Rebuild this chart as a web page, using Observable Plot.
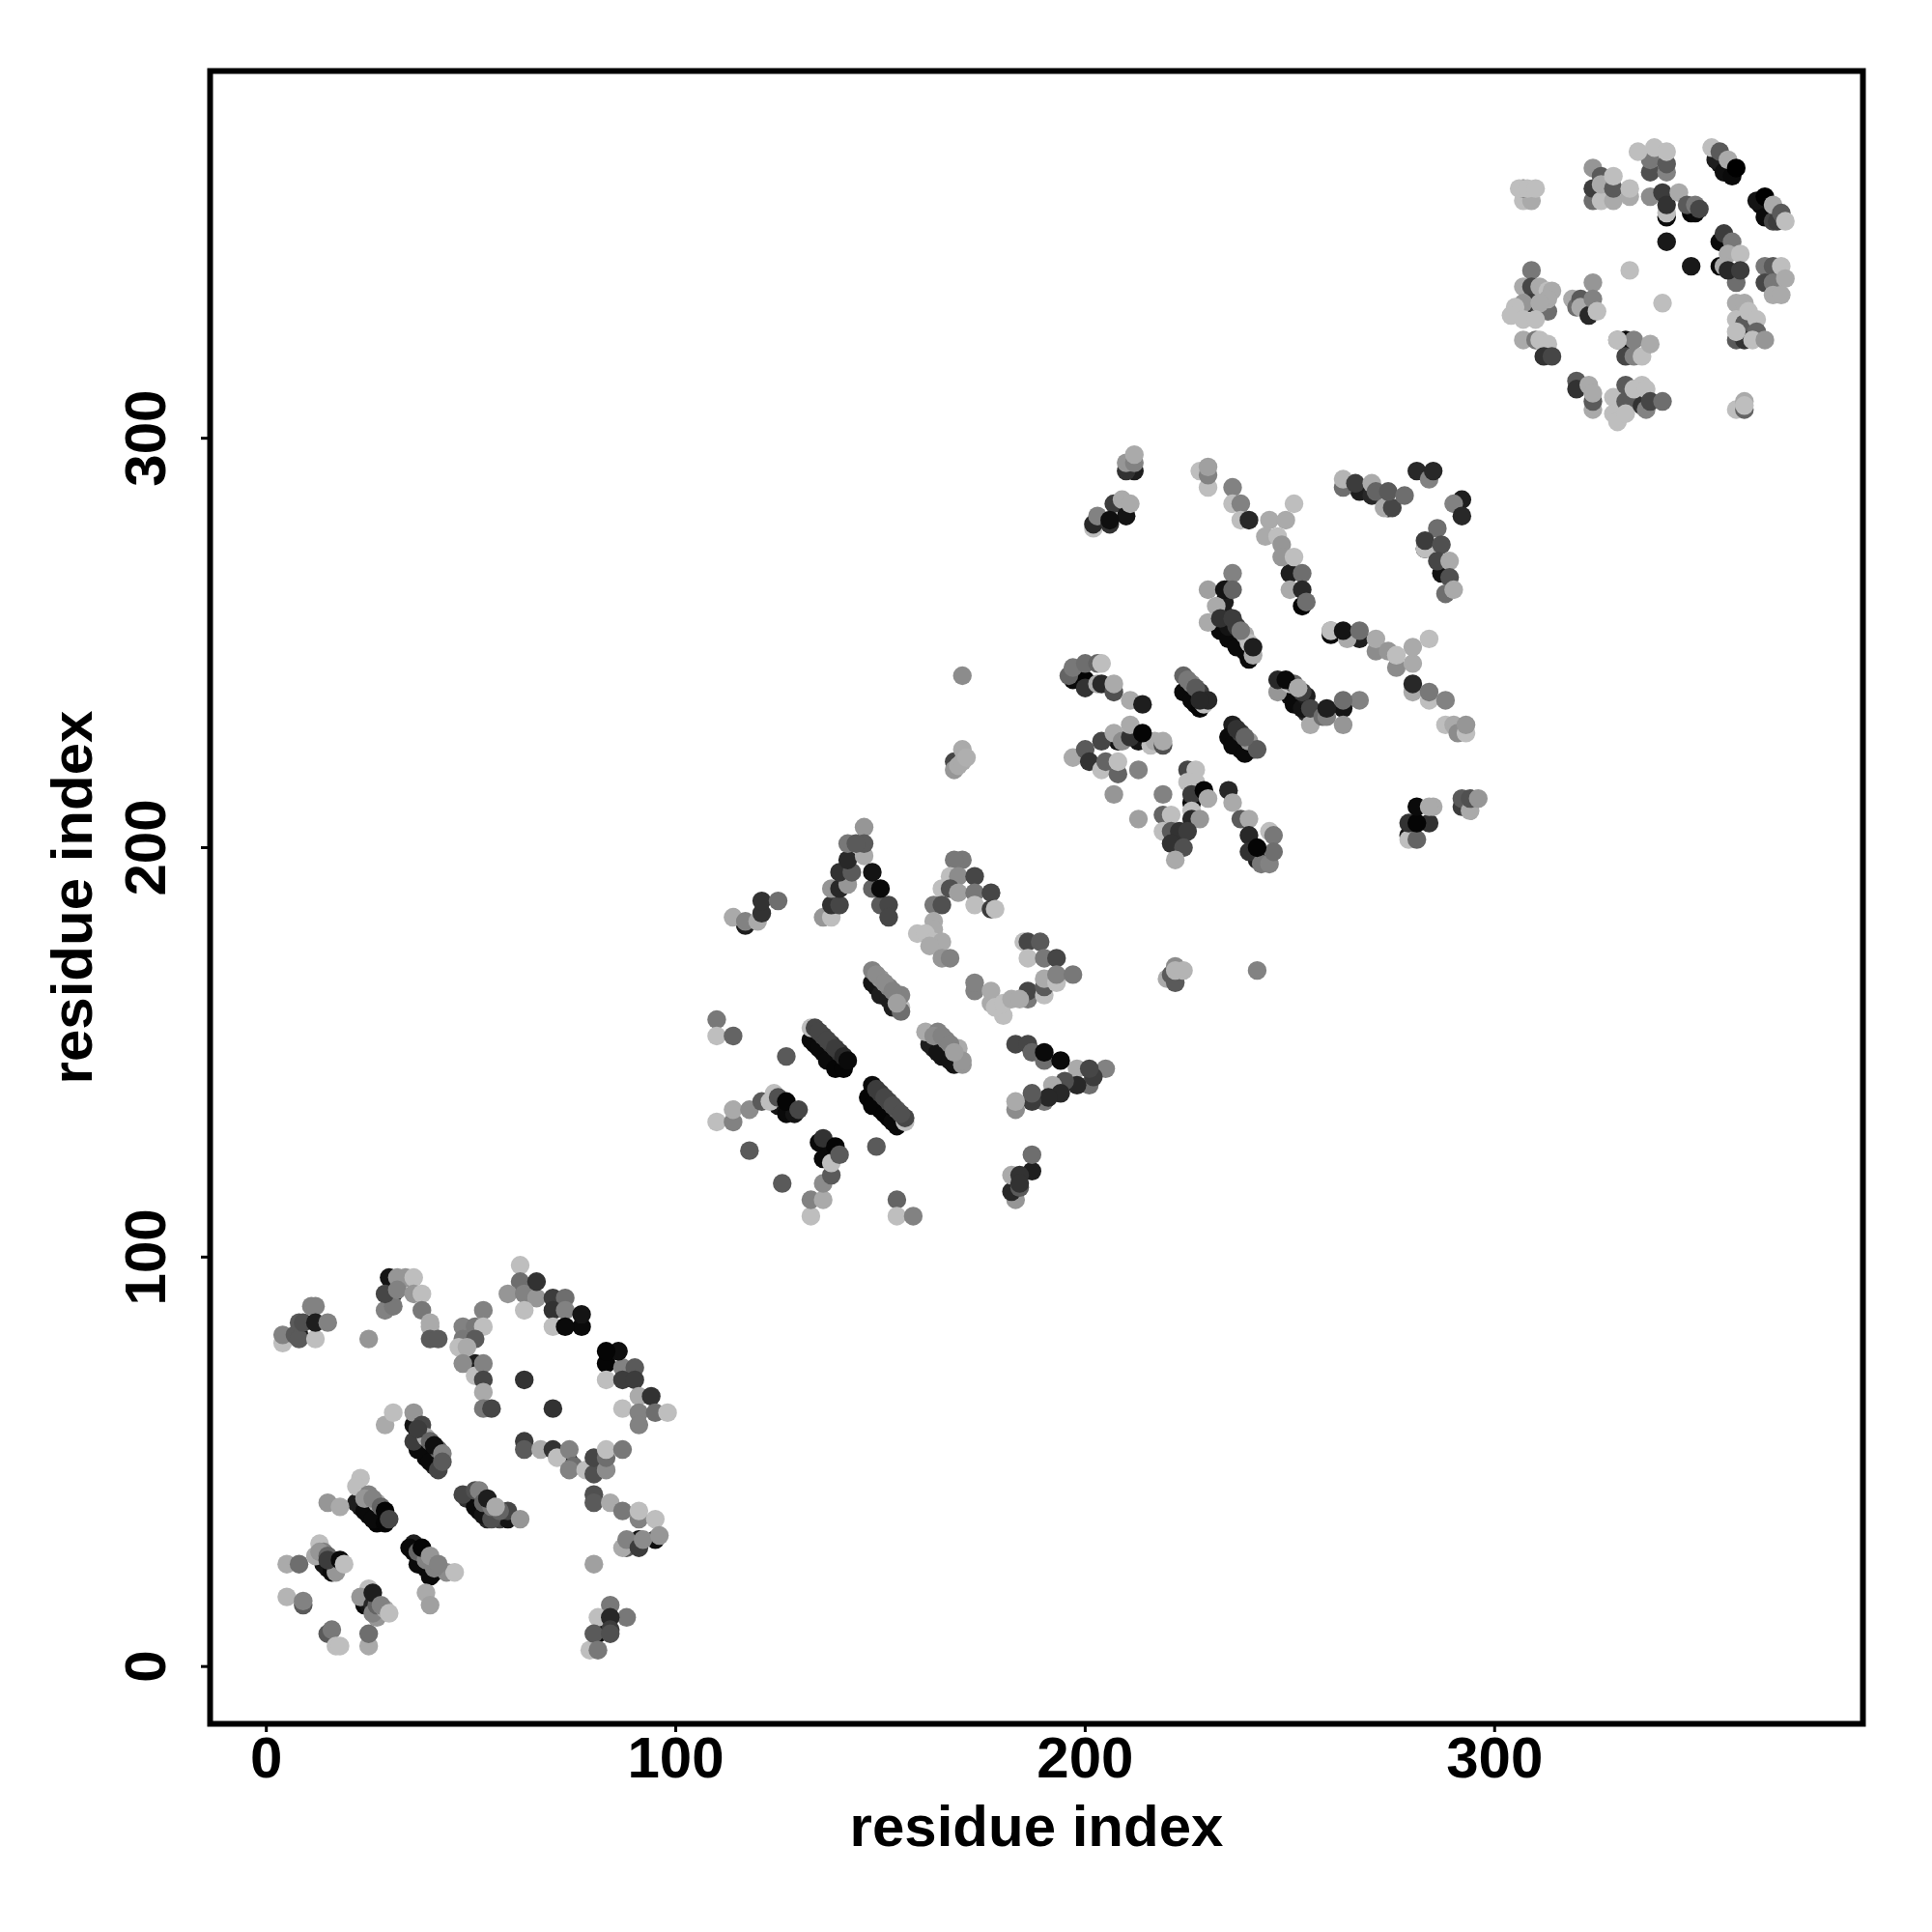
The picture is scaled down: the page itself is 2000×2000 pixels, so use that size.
<!DOCTYPE html>
<html><head><meta charset="utf-8">
<script src="https://cdn.jsdelivr.net/npm/d3@7"></script>
<script src="https://cdn.jsdelivr.net/npm/@observablehq/plot@0.6"></script>
<style>html,body{margin:0;padding:0;background:#fff}svg{display:block}</style>
</head><body><div id="chart"></div>
<script>
const tickValues=[0,100,200,300];
const axisTitle="residue index";
// each entry: residue i, residue j, grey level
const c01=[[4,79,190],[4,81,130],[7,81,90],[8,80,90],[8,81,20],[12,80,190],[8,84,90],[9,84,80],[12,84,30],[15,84,130],[11,88,130],[12,88,130]];
const c02=[[25,80,150],[29,87,130],[31,88,120],[29,91,70],[31,91,20],[30,95,20],[32,95,150],[34,95,150],[36,95,190],[32,92,130],[36,91,150],[38,91,190],[38,87,120],[40,83,170],[40,84,170],[40,80,90],[42,80,90]];
const c03=[[53,87,130],[48,83,130],[51,83,120],[53,83,190],[48,80,120],[51,80,90],[47,78,190],[49,78,170],[48,74,140],[51,71,190],[51,74,30],[53,74,130],[53,70,70],[53,67,170],[53,63,120],[55,63,70]];
const c04=[[63,70,50],[70,63,50]];
const c05=[[62,98,190],[62,94,110],[59,91,150],[63,91,130],[66,90,150],[66,94,50],[63,87,190],[70,90,60],[73,90,110],[70,87,50],[73,87,130],[70,83,190],[73,83,10],[77,83,10],[77,86,20]];
const c06=[[83,77,5],[86,77,15],[83,74,5],[83,70,190],[87,73,130],[90,73,90],[87,70,60],[90,70,60],[91,66,170],[94,66,50],[87,63,190],[91,62,130],[95,62,110],[98,62,190],[91,59,130]];
const c07=[[36,62,150],[29,59,170],[31,62,190],[36,59,20],[38,59,70],[36,55,60],[39,56,170],[37,53,10],[41,54,15],[40,50,10],[42,48,70],[43,50,90],[43,52,130]];
const c08=[[15,40,150],[18,39,170],[23,46,190],[22,44,190],[25,42,130],[22,40,30],[27,40,170],[24,38,10],[26,36,10],[29,35,5],[29,38,5],[30,36,70]];
const c09=[[48,42,70],[51,43,80],[52,43,130],[54,41,30],[51,39,10],[53,37,20],[56,39,170],[55,36,80],[59,36,20],[59,38,70],[62,36,150]];
const c10=[[36,30,30],[35,29,10],[38,29,5],[37,25,10],[40,27,150],[40,22,10],[42,25,130],[44,23,140],[46,23,190],[39,18,170],[40,15,160]];
const c11=[[5,25,170],[8,25,110],[13,30,190],[12,27,170],[14,28,130],[16,26,90],[14,25,20],[16,23,10],[17,23,150],[18,26,10],[19,25,190]];
const c12=[[5,17,180],[9,15,90],[9,16,130],[15,8,90],[16,9,120],[17,5,190],[18,5,190],[25,5,170],[25,8,110]];
const c13=[[25,19,190],[23,17,150],[24,17,10],[26,18,30],[25,15,20],[26,15,40],[27,12,150],[28,15,130],[30,13,190]];
const c14=[[63,55,60],[63,53,90],[67,53,170],[70,53,50],[71,51,190],[74,53,130],[74,50,20],[75,49,110],[74,48,130],[78,48,190],[80,47,80],[80,51,70],[83,48,140],[83,51,110],[83,53,190],[87,53,120]];
const c15=[[80,42,80],[80,40,90],[84,40,170],[87,38,120],[91,36,130],[91,38,190],[95,36,190],[88,29,90],[87,29,170],[88,31,130],[91,29,60],[91,31,20],[92,31,140],[95,31,15],[96,32,150],[80,25,160]];
const c16=[[84,15,120],[81,12,190],[88,12,120],[84,12,40],[84,9,60],[79,4,190],[81,8,10],[80,8,90],[84,8,80],[81,4,120]];
const c17=[[114,183,170],[117,181,30],[117,182,130],[120,182,170],[121,184,50],[121,187,50],[125,187,110],[136,183,150],[138,183,190],[138,186,50],[140,186,70],[138,190,150],[140,190,40],[142,191,150],[140,194,50],[143,194,90],[142,197,40],[146,198,170],[142,201,120],[146,205,150],[146,201,90],[144,201,90]];
const c18=[[148,190,100],[148,194,20],[150,190,10],[150,186,90],[152,186,70],[152,183,70]];
const c19=[[170,197,120],[168,197,120],[167,193,190],[169,193,140],[165,190,190],[167,190,80],[169,189,160],[173,193,70],[173,189,120],[173,186,190],[177,189,70],[177,185,60],[178,185,190],[163,186,120],[165,186,80],[163,182,170],[163,180,170],[159,179,190],[161,179,190],[163,177,190],[165,177,170],[162,176,170],[165,173,150],[167,173,130]];
const c20=[[185,177,190],[186,177,70],[189,177,90],[186,173,190],[190,173,120],[193,173,70],[186,163,120],[186,165,70],[190,164,190],[190,166,90],[190,168,170],[193,167,190],[193,169,130],[197,169,120],[173,165,130],[173,167,130],[177,162,170],[177,165,170],[180,159,190],[178,161,190],[180,162,190],[182,163,170],[184,163,170]];
const c21=[[148,167,20],[148,170,130],[150,164,30],[150,168,150],[152,163,30],[152,166,130],[155,161,190],[155,160,110],[155,164,130]];
const c22=[[133,156,190],[134,156,70],[133,153,10],[136,154,70],[135,151,10],[138,152,60],[137,148,10],[140,150,50],[139,146,5],[141,146,5],[142,148,10]];
const c23=[[161,155,170],[164,155,130],[162,152,30],[166,153,130],[164,150,20],[167,148,20],[169,151,170],[170,147,150],[170,148,150]];
const c24=[[183,152,70],[186,152,70],[187,150,100],[190,148,110],[190,150,10],[194,148,10]];
const c25=[[198,146,170],[205,146,130],[201,142,110],[202,144,60],[201,146,70],[198,142,40],[195,143,80],[192,142,170],[194,140,40],[190,138,120],[191,139,40],[187,138,60],[187,140,90],[183,136,140],[183,138,170]];
const c26=[[110,158,120],[110,154,190],[114,154,100],[127,149,90],[110,133,190],[114,133,130],[114,136,170],[118,136,140],[121,138,90],[123,138,190],[124,140,190],[125,139,80],[127,138,5],[125,137,20],[127,135,10],[129,135,20],[130,136,70],[118,126,90],[126,118,90]];
const c27=[[133,110,190],[133,114,130],[136,114,170],[136,118,140],[138,120,90],[138,123,190],[136,129,50],[135,128,10],[136,124,10],[138,127,10],[139,127,5],[140,125,90],[149,127,90],[154,114,100],[154,110,190],[158,110,130]];
const c28=[[156,133,190],[148,142,10],[147,139,5],[150,140,60],[148,137,5],[152,138,70],[151,135,5],[154,136,90],[153,133,10],[156,134,70]];
const c29=[[183,114,150],[182,116,40],[182,120,170],[184,117,90],[184,120,50],[184,118,50],[187,121,30],[187,125,110]];
const c30=[[210,292,50],[212,292,30],[210,294,150],[212,294,130],[212,296,170],[202,278,190],[203,280,190],[202,279,40],[203,281,130],[206,279,50],[206,280,15],[207,284,60],[210,281,20],[209,285,170],[211,284,170]];
const c31=[[228,292,190],[230,288,190],[230,291,130],[230,293,160],[236,288,130],[236,284,190],[238,284,130],[238,280,190],[240,280,40],[245,280,170],[249,280,170],[251,284,190],[244,276,170],[247,276,190],[248,274,150],[248,271,150],[251,271,190],[250,263,170],[250,267,30],[253,267,110],[253,259,5],[253,263,40],[254,260,110]];
const c32=[[263,288,110],[263,290,180],[266,289,60],[267,287,30],[270,286,40],[270,289,170],[271,287,100],[273,283,170],[274,283,20],[275,283,70],[274,287,90],[278,286,110],[281,292,40],[284,290,130],[285,292,40],[290,284,130],[292,285,30],[292,281,40]];
const c33=[[286,278,110],[283,273,190],[283,273,10],[283,275,60],[287,274,80],[286,270,70],[289,270,170],[287,267,20],[289,266,80],[288,262,110],[290,263,170]];
const c34=[[236,267,130],[230,263,160],[234,263,20],[236,263,100],[232,259,170],[234,260,30],[230,255,170],[233,253,10],[233,256,50],[235,251,10],[235,254,20],[237,254,60],[237,249,10],[239,252,170],[240,246,10],[241,247,170],[240,250,190],[241,249,30]];
const c35=[[260,252,10],[260,253,120],[260,253,190],[263,253,20],[264,251,170],[267,251,30],[267,253,110],[271,248,140],[271,251,170],[274,248,150],[276,244,140],[276,247,190],[280,245,170],[280,249,170],[284,251,190],[280,238,170],[280,240,40],[284,236,190],[284,238,120],[288,236,130],[288,230,190],[290,230,170],[291,228,140],[293,228,190],[293,230,150]];
const c36=[[247,238,150],[247,241,40],[249,241,10],[250,240,190],[249,238,10],[251,235,10],[252,239,170],[253,234,20],[254,237,30],[255,230,170],[255,234,70],[258,232,110],[259,232,130],[259,234,30],[263,230,150],[263,234,20],[263,236,110],[267,236,130]];
const c37=[[197,222,170],[200,224,90],[201,221,50],[204,219,190],[204,226,70],[205,221,100],[208,218,100],[208,221,190],[207,228,170],[208,226,20],[213,219,130],[207,213,150],[213,207,160],[209,226,140],[211,227,50],[211,230,170],[213,226,20],[214,228,5],[216,225,190],[217,226,170],[219,225,80],[219,226,170]];
const c38=[[196,242,100],[197,241,10],[197,244,120],[200,239,50],[200,241,5],[200,245,110],[203,245,100],[204,245,190],[203,240,170],[204,240,40],[207,238,80],[207,240,170],[211,236,170],[214,235,30]];
const c39=[[224,242,100],[224,238,10],[226,240,130],[226,236,10],[228,234,5],[228,238,60],[229,235,190],[230,236,40]];
const c40=[[236,230,30],[235,227,10],[238,228,60],[236,225,10],[239,223,10],[240,226,150],[242,224,90]];
const c41=[[225,219,70],[227,219,190],[225,216,190],[227,216,190],[226,213,60],[226,211,10],[229,214,5],[230,212,170],[226,209,190],[226,207,40],[228,207,150],[235,214,40],[236,211,170],[238,207,90],[240,207,170],[240,203,40],[240,199,50],[242,197,30],[242,200,5],[243,196,120],[245,196,130],[245,204,190],[246,203,120],[246,199,110]];
const c42=[[219,213,130],[219,208,100],[221,208,190],[219,204,190],[221,204,90],[223,204,50],[225,204,60],[221,201,50],[224,200,80],[222,197,170]];
const c43=[[279,202,190],[279,203,20],[281,202,100],[279,206,50],[281,206,5],[284,206,50],[281,210,10],[284,210,170],[285,210,170],[292,210,60],[292,212,90],[294,209,170],[294,212,80],[296,212,150]];
const c44=[[170,242,140],[168,221,70],[168,219,150],[169,220,170],[170,224,170],[170,221,170],[171,222,175],[242,170,130],[220,168,170],[221,169,90],[222,167,90],[222,171,140],[222,170,180],[224,170,180]];
const c45=[[307,358,190],[309,358,170],[307,361,120],[306,361,190],[308,361,190],[310,361,190],[324,358,110],[324,366,150],[324,361,60],[326,364,90],[326,358,190],[326,362,170],[329,358,170],[329,361,90],[329,364,190],[333,359,170],[333,361,190]];
const c46=[[338,365,80],[338,368,120],[335,370,190],[339,371,190],[342,365,130],[342,367,90],[342,370,190],[338,359,140],[341,360,60],[342,354,10],[342,355,190],[342,357,50],[345,360,170],[347,357,90],[348,355,5],[349,355,10],[349,357,120],[350,356,70]];
const c47=[[353,371,190],[355,370,90],[354,368,30],[357,368,170],[356,365,15],[358,364,10],[359,366,0],[364,358,20],[366,359,0],[366,354,10],[368,357,170],[368,353,70],[370,355,90],[371,353,190]];
const c48=[[356,350,60],[355,348,10],[358,348,120],[357,345,170],[360,345,190],[355,342,10],[356,342,170],[359,338,110],[357,341,40],[360,341,60],[348,342,25],[342,348,25],[333,341,190],[341,333,190]];
const c49=[[366,342,120],[368,342,90],[366,338,70],[368,338,120],[370,342,190],[371,339,170],[368,335,170],[370,335,170]];
const c50=[[359,333,170],[361,333,170],[359,329,190],[361,328,90],[362,331,190],[364,329,190],[359,324,90],[361,324,50],[359,326,190],[364,326,100],[363,324,190],[366,324,150]];
const c51=[[309,341,120],[307,337,170],[309,337,70],[309,333,60],[311,337,170],[313,331,110],[313,336,190],[314,336,170],[313,334,170],[307,333,150],[311,333,170],[305,332,190],[304,330,190],[307,329,190],[310,329,190],[307,324,170],[310,324,120],[311,324,190],[313,323,190],[312,320,50],[314,320,70]];
const c52=[[319,334,170],[320,332,110],[321,334,90],[324,338,150],[321,332,170],[323,330,40],[324,334,130],[325,331,190]];
const c53=[[330,324,130],[332,324,10],[332,320,70],[334,320,130],[334,324,130],[330,324,190],[336,320,190],[338,323,170]];
const c54=[[320,314,90],[320,312,50],[324,307,170],[324,309,90],[323,313,170],[324,311,170]];
const c55=[[329,310,190],[329,306,190],[330,304,190],[332,313,90],[334,309,90],[332,309,90],[332,306,190],[336,308,50],[337,307,130],[336,313,190],[334,312,190],[337,312,190],[338,309,70],[341,309,110]];
const c56=[[359,307,190],[361,309,170],[361,307,100],[361,308,190]];
// contacts mostly covered by others along the strand streaks
const streakDark=[[134,152,10],[136,150,10],[138,148,10],[140,147,5],[149,139,5],[150,136,5],[152,134,5],[154,132,10],[149,166,20],[151,164,30],[153,161,30],[163,151,30],[165,149,20],[168,147,20],[37,57,30],[38,54,20],[39,51,10],[41,49,40],[23,39,20],[25,37,10],[27,35,5],[28,36,20],[49,41,50],[52,38,10],[54,36,40],[57,36,70],[36,28,10],[38,26,10],[39,24,10],[41,23,20],[15,24,20],[17,25,20],[24,15,10],[234,257,40],[236,252,20],[238,250,10],[239,248,10],[248,239,10],[250,237,20],[252,235,10],[254,233,40],[225,239,30],[227,235,10],[237,226,10],[238,224,10],[241,224,60],[355,367,20],[357,365,10],[365,357,10],[367,355,20]];
const streakMid=[[135,155,70],[137,153,70],[139,151,60],[141,149,40],[149,141,60],[151,139,70],[153,137,80],[155,135,80],[149,169,140],[151,167,140],[153,165,130],[154,162,160],[163,154,140],[165,154,130],[167,152,130],[168,150,160],[37,58,60],[40,55,100],[42,53,100],[24,41,150],[26,41,130],[28,39,100],[53,40,100],[55,39,120],[57,38,100],[37,28,100],[39,26,130],[41,24,130],[13,28,150],[15,27,100],[15,26,60],[26,13,130],[27,15,100],[29,14,170],[236,256,60],[238,253,120],[251,240,100],[253,238,60],[225,241,120],[227,239,90],[228,236,40],[237,229,50],[239,227,100],[369,353,60]];
// contacts that lie over their neighbours, in stacking order
const upper=[[29,38,5],[30,36,70],[38,29,5],[40,27,150],[42,25,130],[41,54,15],[43,52,130],[43,50,90],[26,18,30],[28,15,130],[30,13,190],[77,83,10],[73,83,10],[77,86,20],[86,77,15],[83,77,5],[54,41,30],[56,39,170],[18,26,10],[19,25,190],[142,148,10],[190,150,10],[194,148,10],[148,194,20],[150,190,10],[127,138,5],[130,136,70],[139,127,5],[140,125,90],[241,249,30],[240,280,40],[214,228,5],[229,214,5],[230,212,170],[242,200,5],[234,263,20],[236,263,100],[263,253,20],[267,253,110],[281,206,5],[281,210,10],[284,210,170],[214,235,30],[210,281,20],[211,284,170],[206,280,15],[359,366,0],[366,359,0],[368,357,170],[370,355,90],[371,353,190],[12,84,30],[15,84,130],[66,94,50],[259,234,30],[263,236,110],[249,241,10],[252,239,170]];
const clusters=[c01,c02,c03,c04,c05,c06,c07,c08,c09,c10,c11,c12,c13,c14,c15,c16,c17,c18,c19,c20,c21,c22,c23,c24,c25,c26,c27,c28,c29,c30,c31,c32,c33,c34,c35,c36,c37,c38,c39,c40,c41,c42,c43,c44,c45,c46,c47,c48,c49,c50,c51,c52,c53,c54,c55,c56];
const upperKeys=new Set(upper.map(String));
const lower=clusters.flatMap(c=>{
  const rest=c.filter(p=>!upperKeys.has(String(p)));
  return [...rest.filter(p=>p[2]<=30),...rest.filter(p=>p[2]>30)];
});
const contacts=[...streakDark,...lower,...streakMid,...upper].map(([i,j,g])=>({i,j,g}));
const font="'Liberation Sans',Arial,sans-serif";
const chart=Plot.plot({
  width:2000,height:2000,
  marginLeft:217,marginRight:72,marginTop:73,marginBottom:216,
  style:{background:"#fff",fontFamily:font},
  x:{domain:[-13.73,389.95]},
  y:{domain:[-14,389.7]},
  color:{type:"linear",domain:[0,255],range:["#000","#fff"]},
  marks:[
    Plot.dot(contacts,{x:"i",y:"j",fill:"g",r:9.7,stroke:"none"}),
    Plot.frame({stroke:"#000",strokeWidth:6}),
    Plot.axisX({ticks:tickValues,tickSize:9,tickPadding:4,strokeWidth:3,fontSize:60,fontWeight:"bold",fill:"#000",
      label:axisTitle,labelAnchor:"center",labelArrow:"none",labelOffset:126}),
    Plot.axisY({ticks:tickValues,tickSize:9,tickPadding:38,strokeWidth:3,fontSize:60,fontWeight:"bold",fill:"#000",
      tickRotate:-90,textAnchor:"middle",
      label:axisTitle,labelAnchor:"center",labelArrow:"none",labelOffset:165})
  ]
});
document.getElementById("chart").append(chart);
</script></body></html>
